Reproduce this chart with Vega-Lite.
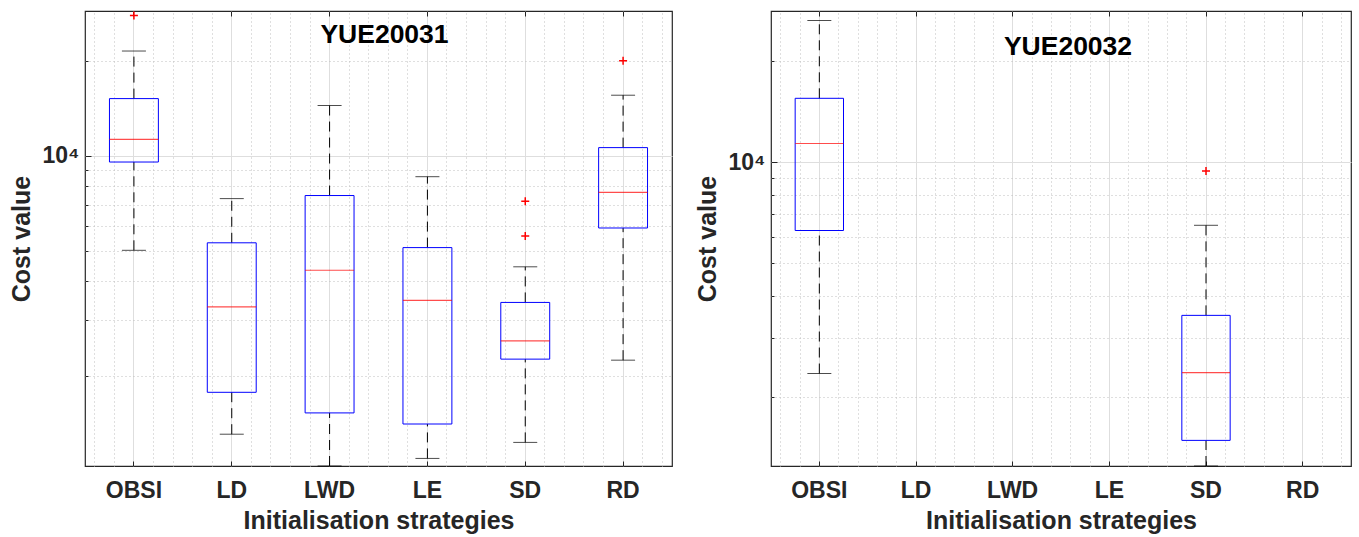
{
  "$schema": "https://vega.github.io/schema/vega-lite/v6.json",
  "background": "white",
  "padding": {"left": 8, "top": 7, "right": 6, "bottom": 0},
  "spacing": 21,
  "columns": 2,
  "align": "none",
  "datasets": {
    "s1": [
      {"strategy": "OBSI", "lower": 5010, "q1": 9550, "median": 11270, "q3": 15180, "upper": 21490},
      {"strategy": "LD", "lower": 1307, "q1": 1775, "median": 3316, "q3": 5292, "upper": 7310},
      {"strategy": "LWD", "lower": 1036, "q1": 1527, "median": 4331, "q3": 7475, "upper": 14430},
      {"strategy": "LE", "lower": 1095, "q1": 1408, "median": 3476, "q3": 5110, "upper": 8579},
      {"strategy": "SD", "lower": 1231, "q1": 2262, "median": 2583, "q3": 3423, "upper": 4441},
      {"strategy": "RD", "lower": 2245, "q1": 5897, "median": 7647, "q3": 10610, "upper": 15560}
    ],
    "o1": [
      {"strategy": "OBSI", "value": 27870},
      {"strategy": "SD", "value": 7167},
      {"strategy": "SD", "value": 5566},
      {"strategy": "RD", "value": 20030}
    ],
    "s2": [
      {"strategy": "OBSI", "lower": 2344, "q1": 6260, "median": 11380, "q3": 15520, "upper": 26480},
      {"strategy": "SD", "lower": 1242, "q1": 1481, "median": 2360, "q3": 3495, "upper": 6488}
    ],
    "o2": [
      {"strategy": "SD", "value": 9427}
    ]
  },
  "concat": [
    {
      "width": 587,
      "height": 455,
      "title": {"text": "YUE20031", "frame": "group", "offset": -60.7, "baseline": "alphabetic", "dx": 6},
      "data": {"name": "s1"},
      "resolve": {"axis": {"x": "independent"}},
      "layer": [
        {
          "mark": {"type": "rule", "color": "#000000", "strokeDash": [10, 6], "strokeWidth": 1},
          "encoding": {
            "x": {"field": "strategy", "type": "nominal", "sort": null, "scale": {"type": "band", "domain": ["OBSI", "LD", "LWD", "LE", "SD", "RD"], "paddingInner": 0, "paddingOuter": 0}, "axis": {"orient": "top", "bandPosition": 0.1, "grid": true, "gridColor": "#bfbfbf", "gridDash": [1, 3], "ticks": false, "labels": false, "domain": false, "title": null}},
            "y": {"field": "q3", "type": "quantitative", "title": "Cost value", "scale": {"type": "log", "domain": [1036, 28790], "nice": false}, "axis": {"orient": "left", "values": [2000, 3000, 4000, 5000, 6000, 7000, 8000, 9000, 10000, 20000], "labelExpr": "datum.value == 10000 ? '10⁴' : ''", "grid": true, "gridColor": {"condition": {"test": "datum.value == 10000", "value": "#dedede"}, "value": "#bfbfbf"}, "gridDash": {"condition": {"test": "datum.value == 10000", "value": []}, "value": [1, 3]}, "tickSize": {"condition": {"test": "datum.value == 10000", "value": -6}, "value": -3}, "tickColor": "#262626", "labelPadding": 12, "title": "Cost value", "titlePadding": 8, "domain": false}},
            "y2": {"field": "upper"}
          }
        },
        {
          "mark": {"type": "rule", "color": "#000000", "strokeDash": [10, 6], "strokeWidth": 1},
          "encoding": {
            "x": {"field": "strategy", "type": "nominal", "sort": null, "scale": {"type": "band", "domain": ["OBSI", "LD", "LWD", "LE", "SD", "RD"], "paddingInner": 0, "paddingOuter": 0}, "axis": {"orient": "top", "bandPosition": 0.3, "grid": true, "gridColor": "#bfbfbf", "gridDash": [1, 3], "ticks": false, "labels": false, "domain": false, "title": null}},
            "y": {"field": "lower", "type": "quantitative", "title": "Cost value", "scale": {"type": "log", "domain": [1036, 28790], "nice": false}},
            "y2": {"field": "q1"}
          }
        },
        {
          "mark": {"type": "tick", "color": "#000000", "thickness": 1, "size": 24},
          "encoding": {
            "x": {"field": "strategy", "type": "nominal", "sort": null, "scale": {"type": "band", "domain": ["OBSI", "LD", "LWD", "LE", "SD", "RD"], "paddingInner": 0, "paddingOuter": 0}, "axis": {"orient": "top", "bandPosition": 0.7, "grid": true, "gridColor": "#bfbfbf", "gridDash": [1, 3], "ticks": false, "labels": false, "domain": false, "title": null}},
            "y": {"field": "upper", "type": "quantitative", "title": "Cost value", "scale": {"type": "log", "domain": [1036, 28790], "nice": false}}
          }
        },
        {
          "mark": {"type": "tick", "color": "#000000", "thickness": 1, "size": 24},
          "encoding": {
            "x": {"field": "strategy", "type": "nominal", "sort": null, "scale": {"type": "band", "domain": ["OBSI", "LD", "LWD", "LE", "SD", "RD"], "paddingInner": 0, "paddingOuter": 0}, "axis": {"orient": "top", "bandPosition": 0.9, "grid": true, "gridColor": "#bfbfbf", "gridDash": [1, 3], "ticks": false, "labels": false, "domain": false, "title": null}},
            "y": {"field": "lower", "type": "quantitative", "title": "Cost value", "scale": {"type": "log", "domain": [1036, 28790], "nice": false}}
          }
        },
        {
          "mark": {"type": "bar", "fill": "white", "fillOpacity": 0, "stroke": "#0000ff", "strokeWidth": 1, "width": {"band": 0.5}},
          "encoding": {
            "x": {"field": "strategy", "type": "nominal", "sort": null, "scale": {"type": "band", "domain": ["OBSI", "LD", "LWD", "LE", "SD", "RD"], "paddingInner": 0, "paddingOuter": 0}, "axis": {"orient": "top", "grid": false, "ticks": true, "tickSize": -5, "tickColor": "#262626", "labels": false, "domain": false, "title": null}},
            "y": {"field": "q1", "type": "quantitative", "title": "Cost value", "scale": {"type": "log", "domain": [1036, 28790], "nice": false}},
            "y2": {"field": "q3"}
          }
        },
        {
          "mark": {"type": "tick", "color": "#ff0000", "thickness": 1.2, "size": 49},
          "encoding": {
            "x": {"field": "strategy", "type": "nominal", "sort": null, "scale": {"type": "band", "domain": ["OBSI", "LD", "LWD", "LE", "SD", "RD"], "paddingInner": 0, "paddingOuter": 0}, "axis": {"orient": "bottom", "title": "Initialisation strategies", "grid": true, "gridColor": "#dedede", "gridWidth": 1, "ticks": true, "tickSize": -5, "tickColor": "#262626", "labelAngle": 0, "labelPadding": 18, "titlePadding": 6, "domain": false}},
            "y": {"field": "median", "type": "quantitative", "title": "Cost value", "scale": {"type": "log", "domain": [1036, 28790], "nice": false}}
          }
        },
        {
          "data": {"name": "o1"},
          "mark": {"type": "point", "shape": "M-1,0H1M0,-1V1", "size": 64, "stroke": "#ff0000", "strokeWidth": 1.5, "filled": false, "opacity": 1},
          "encoding": {
            "x": {"field": "strategy", "type": "nominal", "sort": null, "scale": {"type": "band", "domain": ["OBSI", "LD", "LWD", "LE", "SD", "RD"], "paddingInner": 0, "paddingOuter": 0}, "axis": null},
            "y": {"field": "value", "type": "quantitative", "title": "Cost value", "scale": {"type": "log", "domain": [1036, 28790], "nice": false}}
          }
        }
      ]
    },
    {
      "width": 580,
      "height": 455,
      "title": {"text": "YUE20032", "frame": "group", "offset": -71, "baseline": "alphabetic", "dx": 7},
      "data": {"name": "s2"},
      "resolve": {"axis": {"x": "independent"}},
      "layer": [
        {
          "mark": {"type": "rule", "color": "#000000", "strokeDash": [10, 6], "strokeWidth": 1},
          "encoding": {
            "x": {"field": "strategy", "type": "nominal", "sort": null, "scale": {"type": "band", "domain": ["OBSI", "LD", "LWD", "LE", "SD", "RD"], "paddingInner": 0, "paddingOuter": 0}, "axis": {"orient": "top", "bandPosition": 0.1, "grid": true, "gridColor": "#bfbfbf", "gridDash": [1, 3], "ticks": false, "labels": false, "domain": false, "title": null}},
            "y": {"field": "q3", "type": "quantitative", "title": "Cost value", "scale": {"type": "log", "domain": [1242, 28270], "nice": false}, "axis": {"orient": "left", "values": [2000, 3000, 4000, 5000, 6000, 7000, 8000, 9000, 10000, 20000], "labelExpr": "datum.value == 10000 ? '10⁴' : ''", "grid": true, "gridColor": {"condition": {"test": "datum.value == 10000", "value": "#dedede"}, "value": "#bfbfbf"}, "gridDash": {"condition": {"test": "datum.value == 10000", "value": []}, "value": [1, 3]}, "tickSize": {"condition": {"test": "datum.value == 10000", "value": -6}, "value": -3}, "tickColor": "#262626", "labelPadding": 12, "title": "Cost value", "titlePadding": 8, "domain": false}},
            "y2": {"field": "upper"}
          }
        },
        {
          "mark": {"type": "rule", "color": "#000000", "strokeDash": [10, 6], "strokeWidth": 1},
          "encoding": {
            "x": {"field": "strategy", "type": "nominal", "sort": null, "scale": {"type": "band", "domain": ["OBSI", "LD", "LWD", "LE", "SD", "RD"], "paddingInner": 0, "paddingOuter": 0}, "axis": {"orient": "top", "bandPosition": 0.3, "grid": true, "gridColor": "#bfbfbf", "gridDash": [1, 3], "ticks": false, "labels": false, "domain": false, "title": null}},
            "y": {"field": "lower", "type": "quantitative", "title": "Cost value", "scale": {"type": "log", "domain": [1242, 28270], "nice": false}},
            "y2": {"field": "q1"}
          }
        },
        {
          "mark": {"type": "tick", "color": "#000000", "thickness": 1, "size": 24},
          "encoding": {
            "x": {"field": "strategy", "type": "nominal", "sort": null, "scale": {"type": "band", "domain": ["OBSI", "LD", "LWD", "LE", "SD", "RD"], "paddingInner": 0, "paddingOuter": 0}, "axis": {"orient": "top", "bandPosition": 0.7, "grid": true, "gridColor": "#bfbfbf", "gridDash": [1, 3], "ticks": false, "labels": false, "domain": false, "title": null}},
            "y": {"field": "upper", "type": "quantitative", "title": "Cost value", "scale": {"type": "log", "domain": [1242, 28270], "nice": false}}
          }
        },
        {
          "mark": {"type": "tick", "color": "#000000", "thickness": 1, "size": 24},
          "encoding": {
            "x": {"field": "strategy", "type": "nominal", "sort": null, "scale": {"type": "band", "domain": ["OBSI", "LD", "LWD", "LE", "SD", "RD"], "paddingInner": 0, "paddingOuter": 0}, "axis": {"orient": "top", "bandPosition": 0.9, "grid": true, "gridColor": "#bfbfbf", "gridDash": [1, 3], "ticks": false, "labels": false, "domain": false, "title": null}},
            "y": {"field": "lower", "type": "quantitative", "title": "Cost value", "scale": {"type": "log", "domain": [1242, 28270], "nice": false}}
          }
        },
        {
          "mark": {"type": "bar", "fill": "white", "fillOpacity": 0, "stroke": "#0000ff", "strokeWidth": 1, "width": {"band": 0.5}},
          "encoding": {
            "x": {"field": "strategy", "type": "nominal", "sort": null, "scale": {"type": "band", "domain": ["OBSI", "LD", "LWD", "LE", "SD", "RD"], "paddingInner": 0, "paddingOuter": 0}, "axis": {"orient": "top", "grid": false, "ticks": true, "tickSize": -5, "tickColor": "#262626", "labels": false, "domain": false, "title": null}},
            "y": {"field": "q1", "type": "quantitative", "title": "Cost value", "scale": {"type": "log", "domain": [1242, 28270], "nice": false}},
            "y2": {"field": "q3"}
          }
        },
        {
          "mark": {"type": "tick", "color": "#ff0000", "thickness": 1.2, "size": 48},
          "encoding": {
            "x": {"field": "strategy", "type": "nominal", "sort": null, "scale": {"type": "band", "domain": ["OBSI", "LD", "LWD", "LE", "SD", "RD"], "paddingInner": 0, "paddingOuter": 0}, "axis": {"orient": "bottom", "title": "Initialisation strategies", "grid": true, "gridColor": "#dedede", "gridWidth": 1, "ticks": true, "tickSize": -5, "tickColor": "#262626", "labelAngle": 0, "labelPadding": 18, "titlePadding": 6, "domain": false}},
            "y": {"field": "median", "type": "quantitative", "title": "Cost value", "scale": {"type": "log", "domain": [1242, 28270], "nice": false}}
          }
        },
        {
          "data": {"name": "o2"},
          "mark": {"type": "point", "shape": "M-1,0H1M0,-1V1", "size": 64, "stroke": "#ff0000", "strokeWidth": 1.5, "filled": false, "opacity": 1},
          "encoding": {
            "x": {"field": "strategy", "type": "nominal", "sort": null, "scale": {"type": "band", "domain": ["OBSI", "LD", "LWD", "LE", "SD", "RD"], "paddingInner": 0, "paddingOuter": 0}, "axis": null},
            "y": {"field": "value", "type": "quantitative", "title": "Cost value", "scale": {"type": "log", "domain": [1242, 28270], "nice": false}}
          }
        }
      ]
    }
  ],
  "config": {
    "font": "Liberation Sans",
    "view": {"stroke": "#262626", "strokeWidth": 1.2},
    "axis": {"labelFont": "Liberation Sans", "labelFontSize": 23, "labelFontWeight": "bold", "labelColor": "#262626", "titleFont": "Liberation Sans", "titleFontSize": 25, "titleFontWeight": "bold", "titleColor": "#262626", "labelOverlap": false, "labelFlush": false},
    "title": {"font": "Liberation Sans", "fontSize": 26.5, "fontWeight": "bold", "color": "#000000", "anchor": "middle"}
  }
}
